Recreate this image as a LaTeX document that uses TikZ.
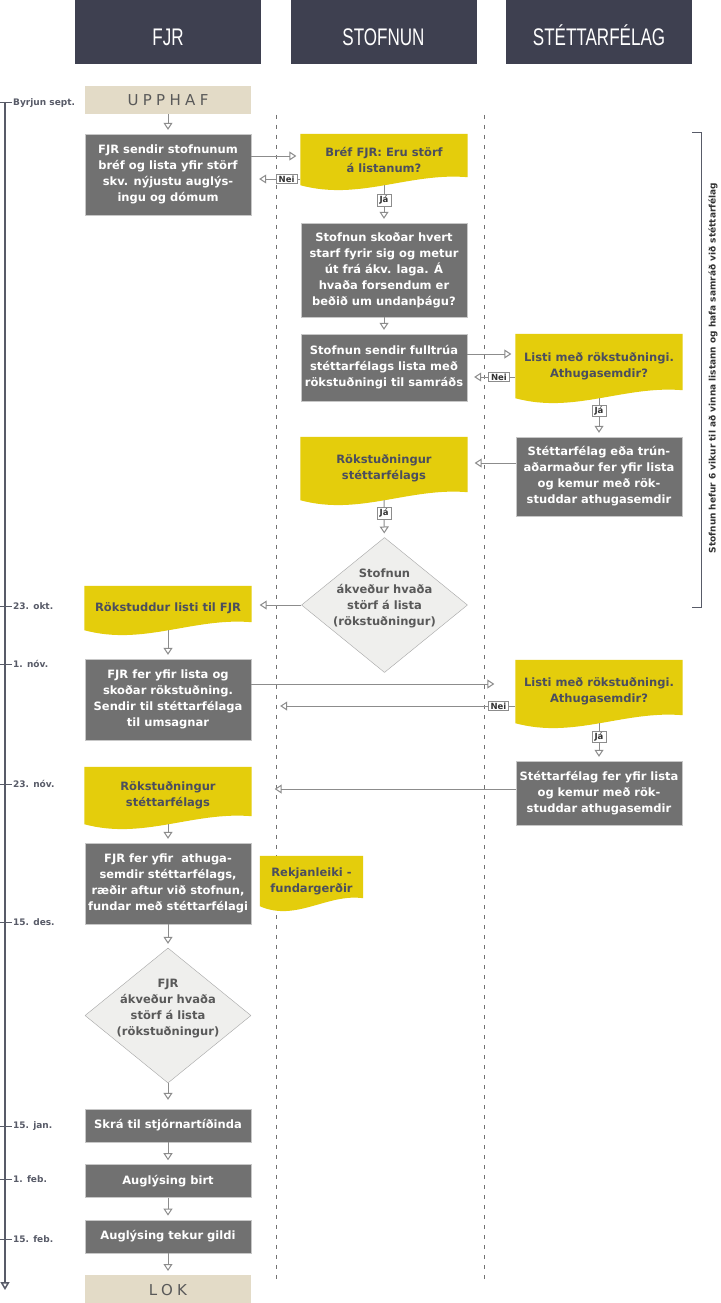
\documentclass[tikz,border=0pt]{standalone}
\usepackage{fontspec}
\setmainfont{DejaVu Sans}
\newfontfamily\headfont{Liberation Sans}
\newfontfamily\spacedfont[LetterSpace=29]{DejaVu Sans}
\usepackage{tikz}
\usetikzlibrary{
    arrows.meta,
    positioning,
    shapes.geometric,
    calc,
    backgrounds,
}

\definecolor{lanehead}{HTML}{3E4050}
\definecolor{stepgray}{HTML}{717171}
\definecolor{docyellow}{HTML}{E4CD0C}
\definecolor{doctext}{HTML}{4B4E5E}
\definecolor{decfill}{HTML}{EFEFED}
\definecolor{termfill}{HTML}{E3DBC7}
\definecolor{flowgray}{HTML}{8C8C8C}
\definecolor{timecol}{HTML}{585B68}

\newcommand{\lanetitle}[1]{\scalebox{0.71}[1]{#1}}
% yellow document shape with a wavy bottom, drawn behind a node
\newcommand{\docwave}[1]{%
    \fill[docyellow] (#1.north west) -- (#1.north east)
        -- ($(#1.south east)+(0,-8)$)
        .. controls ($(#1.south west)!0.65!(#1.south east)+(0,-13)$)
        and ($(#1.south west)!0.35!(#1.south east)+(0,16)$) .. (#1.south west)
        -- cycle;}

\begin{document}
\begin{tikzpicture}[
        x=1pt, y=-1pt,
        >={Triangle[open, length=7pt, width=9pt]},
        node distance=22pt,
        lane/.style={
            fill=lanehead, text=white, anchor=north,
            minimum width=186pt, inner xsep=0pt, inner ysep=0pt,
            text height=45pt, text depth=19pt,
            font=\headfont\fontsize{24}{24}\selectfont
        },
        stepbox/.style={
            rectangle, fill=stepgray, draw=black!22, text=white,
            minimum width=166pt, minimum height=#1, inner sep=0pt,
            align=center, font=\bfseries\fontsize{11.5}{16}\selectfont
        },
        stepbox/.default=33pt,
        docbox/.style={
            rectangle, text=doctext, minimum width=167pt, minimum height=#1,
            inner sep=0pt, align=center,
            font=\bfseries\fontsize{11.5}{16}\selectfont
        },
        decision/.style={
            diamond, draw=black!35, fill=decfill, inner sep=0pt,
            minimum width=166pt, minimum height=135pt
        },
        dectext/.style={
            align=center, text=black!65, yshift=7pt,
            font=\bfseries\fontsize{11.5}{16}\selectfont
        },
        term/.style={
            fill=termfill, text=black!65, minimum width=166pt,
            minimum height=#1, inner sep=0pt,
            font=\spacedfont\fontsize{15}{15}\selectfont
        },
        flow/.style={->, flowgray, line width=1pt, shorten >=4pt},
        tag/.style={
            draw=flowgray, fill=white, text=black!80, line width=0.9pt,
            inner xsep=2.5pt, inner ysep=1.5pt,
            font=\bfseries\fontsize{8.5}{9}\selectfont
        },
        datelbl/.style={anchor=west, text=timecol, inner sep=0pt,
            font=\bfseries\fontsize{9}{9}\selectfont},
    ]
    \useasboundingbox (0,0) rectangle (720,1303);

    % ── Lane headers ──
    \node[lane] (hfjr) at (168,0) {\lanetitle{FJR}};
    \node[lane] (hstof) at (383.5,0) {\lanetitle{STOFNUN}};
    \node[lane] (hstett) at (599,0) {\lanetitle{STÉTTARFÉLAG}};

    % ── FJR: start ──
    \node[term=28pt] (upphaf) at (168,100) {UPPHAF};
    \node[stepbox=81pt] (fjrsend) at (168,174.5)
        {FJR sendir stofnunum\\bréf og lista yfir störf\\skv. nýjustu auglýs-\\ingu og dómum};

    % ── Stofnun ──
    \node[docbox=51pt] (bref) at (384,159.5) {Bréf FJR: Eru störf\\á listanum?};
    \node[stepbox=94pt] (skodar) at (384,270)
        {Stofnun skoðar hvert\\starf fyrir sig og metur\\út frá ákv. laga. Á\\hvaða forsendum er\\beðið um undanþágu?};
    \node[stepbox=67pt] (sendir) at (384,367.5)
        {Stofnun sendir fulltrúa\\stéttarfélags lista með\\rökstuðningi til samráðs};
    \node[docbox=63pt] (rokstofn) at (384,468.5) {Rökstuðningur\\stéttarfélags};
    \node[decision, label={[dectext]center:{Stofnun\\ákveður hvaða\\störf á lista\\(rökstuðningur)}}]
        (stofdec) at (384.5,605) {};

    % ── Stéttarfélag, first round ──
    \node[docbox=64pt] (listi1) at (599,366) {Listi með rökstuðningi.\\Athugasemdir?};
    \node[stepbox=79pt] (trun) at (599,476.5)
        {Stéttarfélag eða trún-\\aðarmaður fer yfir lista\\og kemur með rök-\\studdar athugasemdir};

    % ── FJR, second part ──
    \node[docbox=44pt] (rokfjr) at (168,608) {Rökstuddur listi til FJR};
    \node[stepbox=81pt] (fjrfer) at (168,699.5)
        {FJR fer yfir lista og\\skoðar rökstuðning.\\Sendir til stéttarfélaga\\til umsagnar};
    \node[docbox=57pt] (rokfjr2) at (168,795.5) {Rökstuðningur\\stéttarfélags};
    \node[stepbox=81pt] (fjrath) at (168,883.5)
        {FJR fer yfir\ \ athuga-\\semdir stéttarfélags,\\ræðir aftur við stofnun,\\fundar með stéttarfélagi};
    \node[docbox=50pt, minimum width=103pt] (rekj) at (311.5,881) {Rekjanleiki -\\fundargerðir};

    % ── Stéttarfélag, second round ──
    \node[docbox=63pt] (listi2) at (599,691.5) {Listi með rökstuðningi.\\Athugasemdir?};
    \node[stepbox=64pt] (stett) at (599,793)
        {Stéttarfélag fer yfir lista\\og kemur með rök-\\studdar athugasemdir};

    % ── FJR: end ──
    \node[decision, label={[dectext]center:{FJR\\ákveður hvaða\\störf á lista\\(rökstuðningur)}}]
        (fjrdec) at (168,1015.5) {};
    \node[stepbox] (skra) at (168,1125.5) {Skrá til stjórnartíðinda};
    \node[stepbox, below=of skra] (birt) {Auglýsing birt};
    \node[stepbox, below=of birt] (gildi) {Auglýsing tekur gildi};
    \node[term=29pt, below=of gildi] (lok) {LOK};

    % ── Background: lanes and document shapes ──
    \begin{scope}[on background layer]
        \fill[white] (0,0) rectangle (720,1303);
        \foreach \lx in {276,484}
            \draw[black!55, line width=1pt, dash pattern=on 4pt off 6pt] (\lx,115) -- (\lx,1280);
        \foreach \dn in {bref,rokstofn,listi1,rokfjr,listi2,rokfjr2,rekj}
            {\docwave{\dn}}
    \end{scope}

    % ── Arrows ──
    \draw[flow] (upphaf) -- (fjrsend);
    \draw[flow] ($(fjrsend.east)+(0,-18.5)$) -- ($(bref.west |- fjrsend.east)+(0,-18.5)$);
    \draw[flow, shorten >=8pt] ($(bref.west |- fjrsend.east)+(0,4.5)$)
        -- node[tag, pos=0.28] {Nei} ($(fjrsend.east)+(0,4.5)$);
    \draw[flow] (bref) -- node[tag, pos=0.4] {Já} (skodar);
    \draw[flow] (skodar) -- (sendir);
    \draw[flow] ($(sendir.east)+(0,-13.5)$) -- ($(listi1.west |- sendir.east)+(0,-13.5)$);
    \draw[flow, shorten >=7pt] ($(listi1.west |- sendir.east)+(0,9.5)$)
        -- node[tag, pos=0.34] {Nei} ($(sendir.east)+(0,9.5)$);
    \draw[flow] (listi1) -- node[tag, pos=0.33] {Já} (trun);
    \draw[flow, shorten >=7pt] ($(trun.west)+(0,-13.5)$) -- ($(rokstofn.east |- trun.west)+(0,-13.5)$);
    \draw[flow] (rokstofn) -- node[tag, pos=0.35] {Já} (stofdec);
    \draw[flow, shorten >=8pt] (stofdec.west) -- (stofdec.west -| rokfjr.east);
    \draw[flow] (rokfjr) -- (fjrfer);
    \draw[flow, shorten >=21pt] ($(fjrfer.east)+(0,-15.5)$) -- ($(listi2.west |- fjrfer.east)+(0,-15.5)$);
    \draw[flow, shorten >=29pt] ($(listi2.west |- fjrfer.east)+(0,6.5)$)
        -- node[tag, pos=0.064] {Nei} ($(fjrfer.east)+(0,6.5)$);
    \draw[flow] (listi2) -- node[tag, pos=0.37] {Já} (stett);
    \draw[flow, shorten >=23pt] ($(stett.west)+(0,-4)$) -- ($(rokfjr2.east |- stett.west)+(0,-4)$);
    \draw[flow] (rokfjr2) -- (fjrath);
    \draw[flow] (fjrath) -- (fjrdec);
    \draw[flow, shorten >=9pt] (fjrdec) -- (skra);
    \draw[flow] (skra) -- (birt);
    \draw[flow] (birt) -- (gildi);
    \draw[flow] (gildi) -- (lok);

    % ── Time line ──
    \coordinate (tltop) at (5,103);
    \coordinate (tlend) at (5,1290);
    \draw[timecol, line width=1.5pt, -{Triangle[open, length=8pt, width=9pt]}] (tltop) -- (tlend);
    \foreach \ty/\dlabel [count=\i] in {103/Byrjun sept., 606/23. okt., 664/1. nóv.,
            784/23. nóv., 922/15. des., 1126/15. jan., 1179/1. feb., 1239/15. feb.} {
        \draw[timecol, line width=1pt] (0,\ty) -- (12,\ty);
        \node[datelbl] (date\i) at (13,\ty) {\dlabel};
    }

    % ── Six-week bracket ──
    \draw[timecol, line width=1pt] (692,133) -- (701,133) -- (701,607) -- (692,607);
    \node[rotate=90, text=black!80, font=\bfseries\fontsize{9}{9}\selectfont] (sixweeks) at (713,368)
        {Stofnun hefur 6 vikur til að vinna listann og hafa samráð við stéttarfélag};

\end{tikzpicture}
\end{document}
